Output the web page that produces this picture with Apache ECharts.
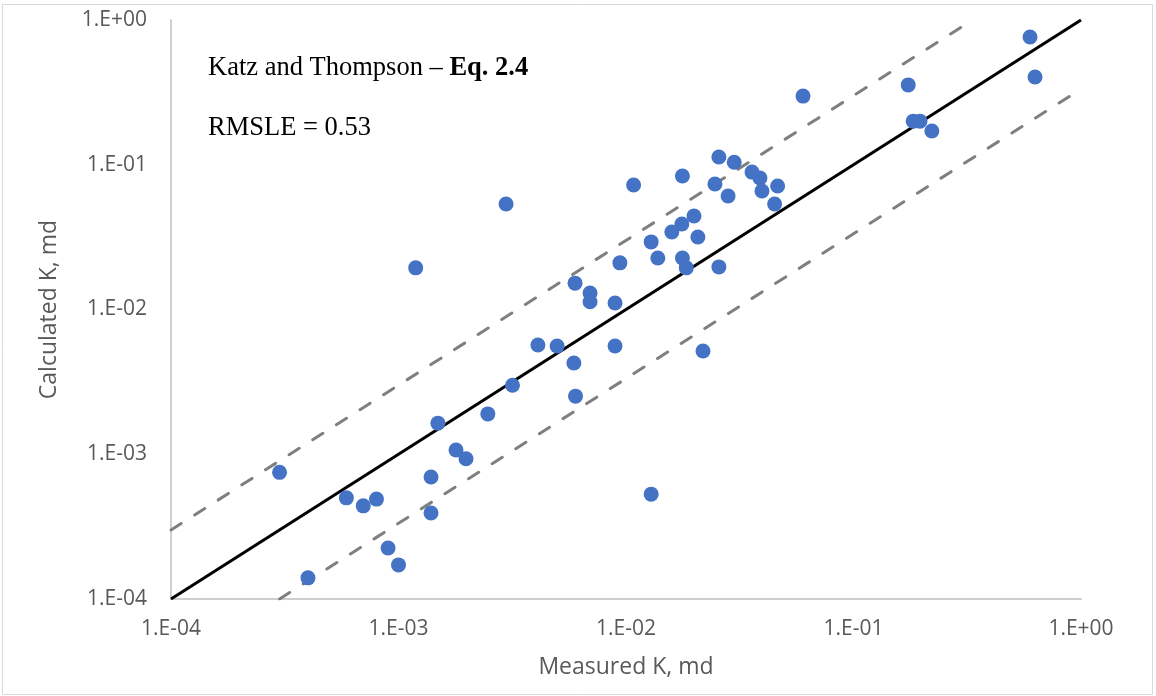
<!DOCTYPE html>
<html>
<head>
<meta charset="utf-8">
<script src="https://cdn.jsdelivr.net/npm/echarts@6/dist/echarts.min.js"></script>
<style>
html,body{margin:0;padding:0;background:#fff;}
#chart{width:1156px;height:696px;}
</style>
</head>
<body>
<div id="chart"></div>
<script>
// Measured permeability (x) and calculated permeability (y), md
var measured = [3.0e-4, 4.0e-4, 5.9e-4, 7.0e-4, 8.0e-4, 9.0e-4, 1.0e-3, 1.19e-3, 1.39e-3, 1.39e-3,
  1.49e-3, 1.79e-3, 1.98e-3, 2.47e-3, 2.97e-3, 3.17e-3, 4.1e-3, 4.98e-3, 5.97e-3, 5.9e-3,
  6.0e-3, 6.95e-3, 6.95e-3, 8.95e-3, 8.95e-3, 9.4e-3, 1.08e-2, 1.29e-2, 1.38e-2, 1.29e-2,
  1.59e-2, 1.77e-2, 1.76e-2, 1.77e-2, 1.84e-2, 1.99e-2, 2.07e-2, 2.18e-2, 2.46e-2, 2.56e-2,
  2.56e-2, 2.81e-2, 2.99e-2, 3.58e-2, 3.88e-2, 3.96e-2, 4.5e-2, 4.64e-2, 6.0e-2, 0.174,
  0.183, 0.196, 0.221, 0.597, 0.628];
var calculated = [7.5e-4, 1.4e-4, 5.0e-4, 4.4e-4, 4.9e-4, 2.25e-4, 1.72e-4, 1.94e-2, 6.97e-4, 3.93e-4,
  1.64e-3, 1.07e-3, 9.3e-4, 1.9e-3, 5.35e-2, 3.0e-3, 5.69e-3, 5.6e-3, 1.52e-2, 4.27e-3,
  2.52e-3, 1.3e-2, 1.13e-2, 1.11e-2, 5.6e-3, 2.1e-2, 7.25e-2, 2.93e-2, 2.27e-2, 5.3e-4,
  3.43e-2, 8.36e-2, 3.9e-2, 2.27e-2, 1.94e-2, 4.43e-2, 3.17e-2, 5.17e-3, 7.36e-2, 1.13e-1,
  1.97e-2, 6.08e-2, 1.04e-1, 8.9e-2, 8.1e-2, 6.59e-2, 5.35e-2, 7.13e-2, 0.298, 0.356,
  0.2, 0.2, 0.171, 0.763, 0.404];

// Reference lines: 1:1 line and factor-of-3 bands
var lineUnity = [[1e-4, 1e-4], [1, 1]];
var lineUpper = [[1e-4, 3e-4], [1 / 3, 1]];
var lineLower = [[3e-4, 1e-4], [1, 1 / 3]];

var tickLabels = ['1.E-04', '1.E-03', '1.E-02', '1.E-01', '1.E+00'];
var tickExponents = [-4, -3, -2, -1, 0];

var titleText = 'Katz and Thompson – ';
var titleBold = 'Eq. 2.4';
var rmsleText = 'RMSLE = 0.53';

function fmt(v) {
  var e = Math.round(Math.log10(v));
  var i = tickExponents.indexOf(e);
  return i >= 0 ? tickLabels[i] : '';
}

var points = measured.map(function (m, i) { return [m, calculated[i]]; });

var chart = echarts.init(document.getElementById('chart'), null, {renderer: 'canvas'});
var axisLabelStyle = {color: '#595959', fontFamily: 'Open Sans', fontSize: 21};
chart.setOption({
  backgroundColor: '#ffffff',
  animation: false,
  grid: {left: 171, right: 75, top: 20, bottom: 97, containLabel: false},
  xAxis: {
    type: 'log', logBase: 10, min: 1e-4, max: 1,
    name: 'Measured K, md', nameLocation: 'middle', nameGap: 57,
    nameTextStyle: {color: '#595959', fontFamily: 'Open Sans', fontSize: 23},
    axisLine: {show: true, lineStyle: {color: '#bfbfbf', width: 1.5}},
    axisTick: {show: false},
    splitLine: {show: false},
    minorTick: {show: false},
    axisLabel: Object.assign({margin: 20, formatter: fmt}, axisLabelStyle)
  },
  yAxis: {
    type: 'log', logBase: 10, min: 1e-4, max: 1,
    name: 'Calculated K, md', nameLocation: 'middle', nameGap: 110,
    nameTextStyle: {color: '#595959', fontFamily: 'Open Sans', fontSize: 23},
    axisLine: {show: true, lineStyle: {color: '#bfbfbf', width: 1.5}},
    axisTick: {show: false},
    splitLine: {show: false},
    axisLabel: Object.assign({margin: 24, formatter: fmt}, axisLabelStyle)
  },
  graphic: [
    {type: 'rect', shape: {x: 2.5, y: 4.5, width: 1150, height: 690},
     style: {fill: 'none', stroke: '#d9d9d9', lineWidth: 1}, silent: true, z: -10},
    {type: 'text', left: 208, top: 55,
     style: {text: '{n|' + titleText + '}{b|' + titleBold + '}',
       rich: {
         n: {fontFamily: 'Liberation Serif', fontSize: 26.5, fill: '#000', color: '#000'},
         b: {fontFamily: 'Liberation Serif', fontSize: 26.5, fontWeight: 'bold', fill: '#000', color: '#000'}
       }}, z: 100},
    {type: 'text', left: 208, top: 115,
     style: {text: rmsleText, fontFamily: 'Liberation Serif', fontSize: 26.5, fill: '#000'}, z: 100}
  ],
  series: [
    {type: 'line', data: lineUpper, symbol: 'none', silent: true, z: 2,
     lineStyle: {color: '#7f7f7f', width: 3, type: [12, 16], cap: 'round'}},
    {type: 'line', data: lineLower, symbol: 'none', silent: true, z: 2,
     lineStyle: {color: '#7f7f7f', width: 3, type: [12, 16], cap: 'round'}},
    {type: 'line', data: lineUnity, symbol: 'none', silent: true, z: 3,
     lineStyle: {color: '#000000', width: 3}},
    {type: 'scatter', data: points, symbol: 'circle', symbolSize: 15, z: 5,
     itemStyle: {color: '#4472c4', opacity: 1}}
  ]
});
</script>
</body>
</html>
